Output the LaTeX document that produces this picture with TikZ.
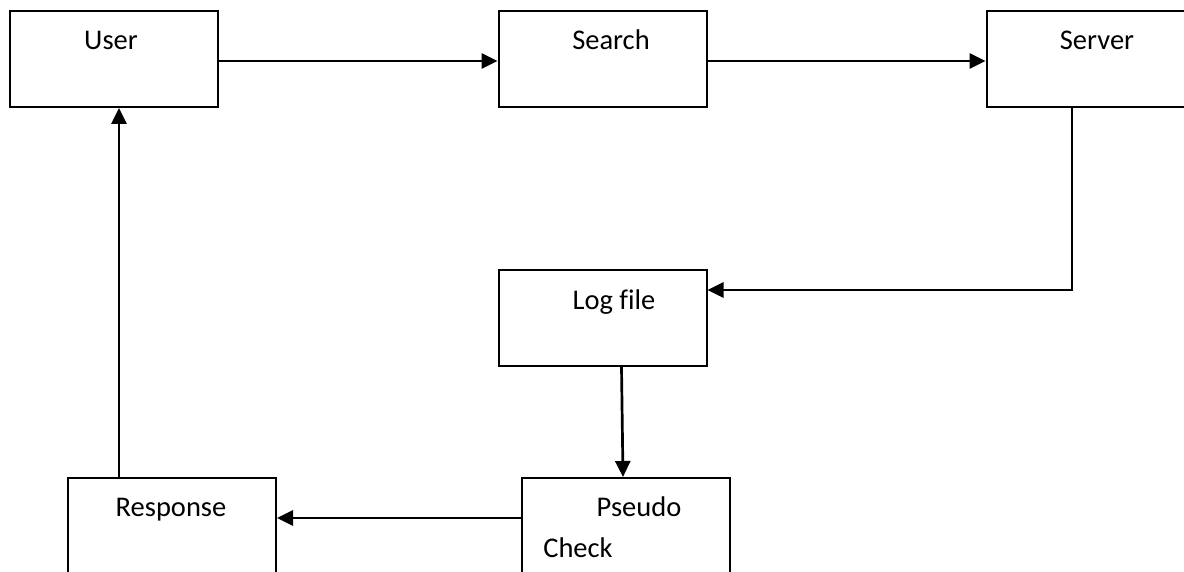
\documentclass[tikz,border=0pt]{standalone}
\usepackage{fontspec}
\setmainfont{Carlito}[Ligatures=NoCommon]
\usetikzlibrary{arrows.meta, positioning}

\tikzset{
  box/.style={draw, rectangle, line width=2pt, minimum width=208pt, minimum height=96pt, inner sep=0pt},
  txt/.style={anchor=base, inner sep=0pt, font=\fontsize{28.5}{34}\selectfont},
  arr/.style={line width=2.7pt, -{Triangle[length=16pt,width=15pt]}}
}

\begin{document}
\begin{tikzpicture}[x=1pt, y=-1pt]
            \useasboundingbox (0,0) rectangle (1184,572);

            \node[box] (user) at (114, 59) {};
            \node[box] (search) at (602.5, 59) {};
            \node[box] (server) at (1090.5, 59) {};
            \node[box] (logfile) at (602.5, 318) {};
            \node[box] (response) at (172, 526) {};
            \node[box] (pseudo) at (626, 526) {};

            \node[txt] (usertext) at (111, 50) {User};
            \node[txt] (searchtext) at (611, 50) {Search};
            \node[txt] (servertext) at (1097, 50) {Server};
            \node[txt] (logtext) at (614, 309) {Log file};
            \node[txt] (responsetext) at (171, 516) {Response};
            \node[txt] (pseudotext) at (639, 516) {Pseudo};
            \node[txt] (checktext) at (578, 557) {Check};

            \coordinate (bend) at (1072, 290);

            \draw[arr] ([yshift=-2pt]user.east) -- ([yshift=-2pt]search.west);
            \draw[arr] ([yshift=-2pt]search.east) -- ([yshift=-2pt]server.west);
            \draw[arr] (server.south -| bend) -- (bend) -- (logfile.east |- bend);
            \draw[arr] ([xshift=19pt]logfile.south) -- ([xshift=-3pt]pseudo.north);
            \draw[arr] ([yshift=8pt]pseudo.west) -- ([yshift=8pt]response.east);
            \draw[arr] (response.north -| 119,0) -- (user.south -| 119,0);
        \end{tikzpicture}
\end{document}
